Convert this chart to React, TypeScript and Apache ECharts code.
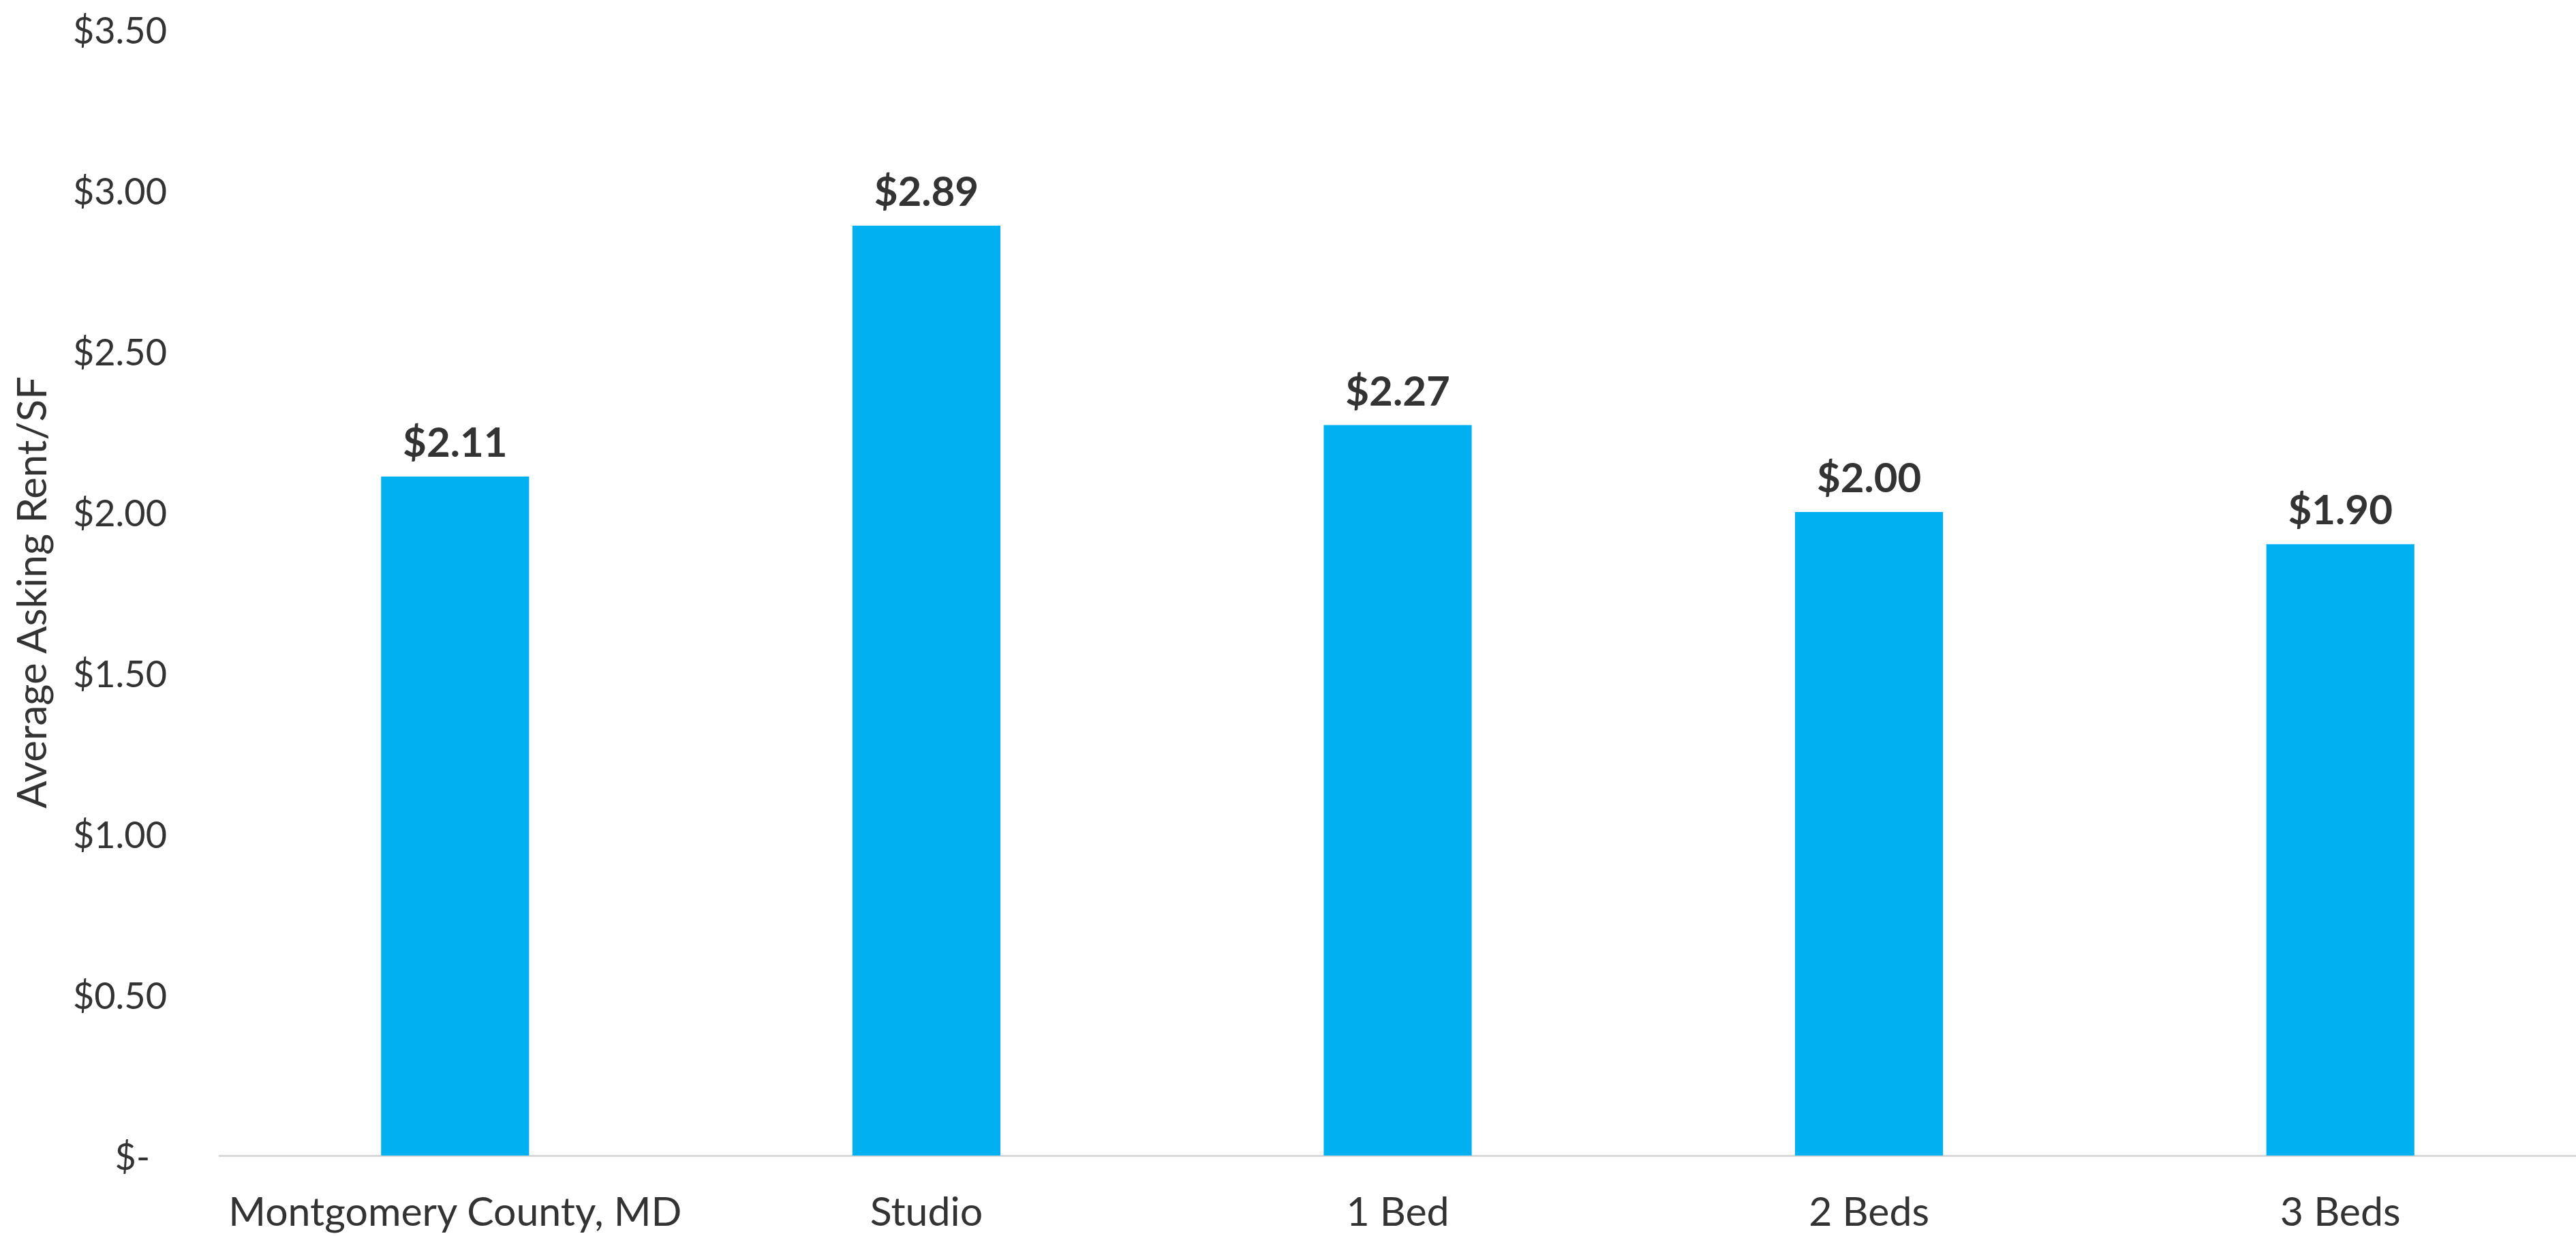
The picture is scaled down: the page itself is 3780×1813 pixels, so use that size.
import React, { useEffect, useRef } from "react";
import * as echarts from "echarts";

const categories = ["Montgomery County, MD", "Studio", "1 Bed", "2 Beds", "3 Beds"];
const rentValues = [2.11, 2.89, 2.27, 2.0, 1.9];
const yAxisTitle = "Average Asking Rent/SF";
const yMin = 0;
const yMax = 3.5;
const yStep = 0.5;

const TEXT = "#333333";
const BAR = "#00B0F0";
const FONT = "Lato, 'Open Sans', sans-serif";

function fmtMoney(v: number): string {
  return "$" + v.toFixed(2);
}

export default function App() {
  const ref = useRef<HTMLDivElement | null>(null);

  useEffect(() => {
    if (!ref.current) return;
    const chart = echarts.init(ref.current, null, { renderer: "svg" });
    chart.setOption({
      animation: false,
      backgroundColor: "#ffffff",
      grid: { left: 322, right: 0, top: 43, bottom: 118, containLabel: false },
      xAxis: {
        type: "category",
        data: categories,
        axisLine: { show: true, lineStyle: { color: "#D9D9D9", width: 3 } },
        axisTick: { show: false },
        axisLabel: {
          color: TEXT,
          fontFamily: FONT,
          fontSize: 59,
          margin: 51,
          interval: 0,
        },
        splitLine: { show: false },
      },
      yAxis: {
        type: "value",
        min: yMin,
        max: yMax,
        interval: yStep,
        name: yAxisTitle,
        nameLocation: "middle",
        nameRotate: 90,
        nameGap: 247,
        nameTextStyle: { color: TEXT, fontFamily: FONT, fontSize: 60 },
        axisLine: { show: false },
        axisTick: { show: false },
        splitLine: { show: false },
        axisLabel: {
          color: TEXT,
          fontFamily: FONT,
          fontSize: 54,
          margin: 77,
          formatter: (v: number) => (v === 0 ? "{z|$-}" : fmtMoney(v)),
          rich: {
            z: { color: TEXT, fontFamily: FONT, fontSize: 54, padding: [0, 25, 0, 0] },
          },
        },
      },
      series: [
        {
          type: "bar",
          data: rentValues,
          barWidth: "31.4%",
          itemStyle: { color: BAR },
          label: {
            show: true,
            position: "top",
            distance: 22,
            color: TEXT,
            fontFamily: FONT,
            fontWeight: "bold",
            fontSize: 60,
            formatter: (p: any) => fmtMoney(p.value),
          },
        },
      ],
    });
    return () => chart.dispose();
  }, []);

  return (
    <div
      ref={ref}
      style={{ position: "absolute", left: 0, top: 0, width: 3780, height: 1813 }}
    />
  );
}
